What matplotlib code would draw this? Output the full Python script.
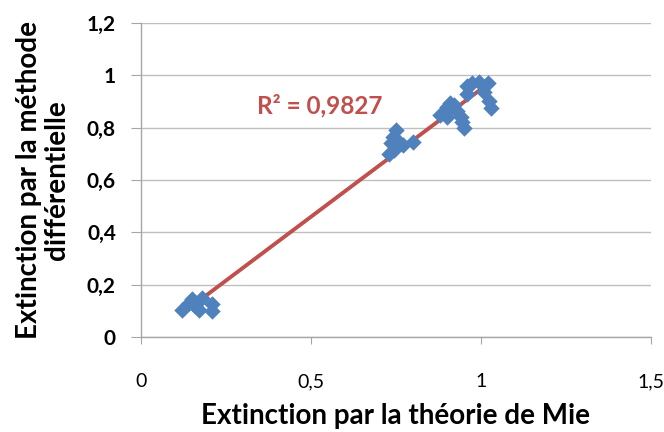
import matplotlib.pyplot as plt
from matplotlib.ticker import FuncFormatter
import numpy as np

plt.rcParams['font.family'] = ['Lato', 'DejaVu Sans']

# Extinction: Mie theory (x) vs differential method (y)
mie = [0.12, 0.14, 0.15, 0.16, 0.17, 0.18, 0.21, 0.21,
       0.73, 0.735, 0.74, 0.745, 0.75, 0.76, 0.77, 0.80,
       0.88, 0.90, 0.90, 0.91, 0.92, 0.93, 0.94, 0.945, 0.95,
       0.96, 0.96, 0.975, 0.995, 1.01, 1.02, 1.025, 1.03]
diff = [0.105, 0.13, 0.145, 0.12, 0.105, 0.15, 0.125, 0.10,
        0.70, 0.74, 0.765, 0.715, 0.79, 0.745, 0.735, 0.745,
        0.85, 0.84, 0.88, 0.895, 0.885, 0.865, 0.84, 0.82, 0.80,
        0.93, 0.96, 0.97, 0.975, 0.935, 0.97, 0.90, 0.875]
r2_text = 'R² = 0,9827'

x_ticks = [0, 0.5, 1, 1.5]
y_ticks = [0, 0.2, 0.4, 0.6, 0.8, 1.0, 1.2]

blue = '#4F81BD'
red = '#C0504D'
grey = '#BFBFBF'

fig = plt.figure(figsize=(6.64, 4.32), dpi=100)
ax = fig.add_axes([0.2123, 0.2199, 0.9804 - 0.2123, 0.9468 - 0.2199])

# linear trend line over the data range
slope, icpt = np.polyfit(mie, diff, 1)
xs = np.array([min(mie), max(mie)])
ax.plot(xs, slope * xs + icpt, color=red, lw=2.8, zorder=2)
ax.scatter(mie, diff, marker='D', s=70, color=blue, lw=0, zorder=3)

ax.text(0.526, 0.885, r2_text, color=red, fontsize=17.5, fontweight='bold',
        ha='center', va='center')

ax.set_xlim(0, 1.5)
ax.set_ylim(0, 1.2)
ax.set_xticks(x_ticks)
ax.set_yticks(y_ticks)
comma = FuncFormatter(lambda v, p: f'{v:g}'.replace('.', ','))
ax.xaxis.set_major_formatter(comma)
ax.yaxis.set_major_formatter(comma)

ax.grid(axis='y', color=grey, lw=1)
ax.set_axisbelow(True)
for s in ['top', 'right']:
    ax.spines[s].set_visible(False)
for s in ['left', 'bottom']:
    ax.spines[s].set_color('#A6A6A6')
    ax.spines[s].set_lw(1)

ax.tick_params(axis='x', direction='out', length=5, color='#A6A6A6',
               labelsize=14, pad=21)
ax.tick_params(axis='y', direction='out', length=7, color='#A6A6A6',
               labelsize=15, pad=11)
for lab in ax.get_yticklabels():
    lab.set_fontweight('bold')

ax.set_xlabel('Extinction par la théorie de Mie', fontsize=20,
              fontweight='bold', labelpad=9)
ax.set_ylabel('Extinction par la méthode\ndifférentielle', fontsize=20,
              fontweight='bold', labelpad=12, linespacing=1.1)

fig.savefig('out.png', dpi=100)
